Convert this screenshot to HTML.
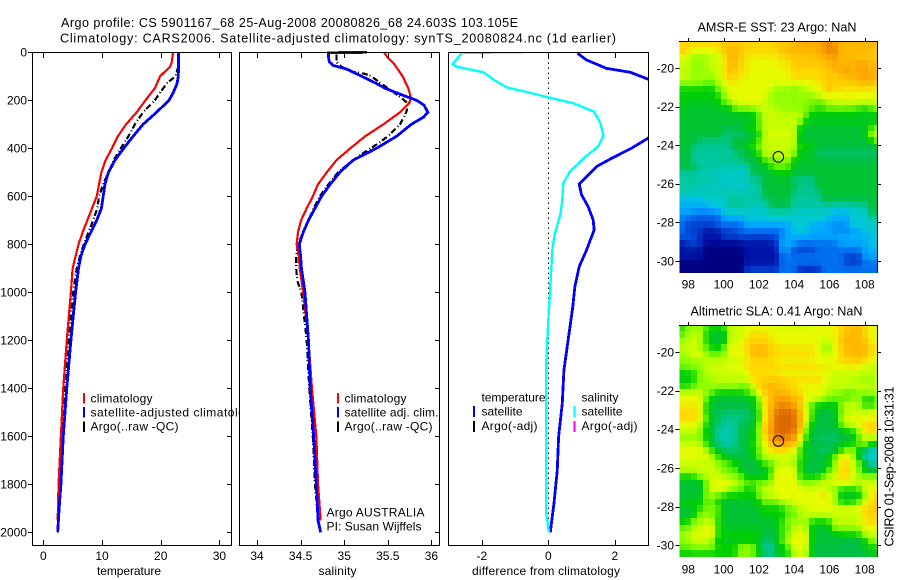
<!DOCTYPE html>
<html lang="en">
<head>
<meta charset="utf-8">
<title>Argo profile chart</title>
<style>
html,body{margin:0;padding:0;background:#fff;}
svg{display:block;}
text{font-family:"Liberation Sans",sans-serif;font-size:12px;fill:#000;}
text.big{font-size:12.6px;}
.ln{shape-rendering:crispEdges;}
</style>
</head>
<body>
<svg id="chart" width="900" height="580" viewBox="0 0 900 580" xmlns="http://www.w3.org/2000/svg">
<defs>
<clipPath id="clip3"><rect x="449" y="53" width="199" height="492"/></clipPath>
<clipPath id="clipMap1"><rect x="679.5" y="41" width="198" height="232.5"/></clipPath>
<clipPath id="clipMap2"><rect x="679.5" y="325" width="198" height="232.5"/></clipPath>
</defs>
<rect x="0" y="0" width="900" height="580" fill="#fff"/>
<text class="big" x="61" y="27" textLength="457" lengthAdjust="spacing">Argo profile: CS 5901167_68 25-Aug-2008 20080826_68 24.603S 103.105E</text>
<text class="big" x="60" y="42.5" textLength="556" lengthAdjust="spacing">Climatology: CARS2006. Satellite-adjusted climatology: synTS_20080824.nc (1d earlier)</text>

<g id="panel1">
<rect x="32.5" y="52.5" width="199" height="493" fill="#fff"/>
<g id="marks1"></g>
<rect class="ln" x="32.5" y="52.5" width="199" height="493" fill="none" stroke="#000"/>
<g id="ticks1"></g>
<text x="97" y="575" textLength="64" lengthAdjust="spacing">temperature</text>
<rect class="ln" x="83" y="393" width="2" height="10.5" fill="#f00"/>
<rect class="ln" x="83" y="407" width="2" height="10.5" fill="#00f"/>
<rect class="ln" x="83" y="421.5" width="2" height="10.5" fill="#000"/>
<text x="90.5" y="402.5" textLength="62" lengthAdjust="spacing">climatology</text>
<text x="90.5" y="416.5" textLength="168" lengthAdjust="spacing">satellite-adjusted climatology</text>
<text x="90.5" y="430.5" textLength="88" lengthAdjust="spacing">Argo(..raw -QC)</text>
</g>

<g id="panel2">
<rect x="239.5" y="52.5" width="200" height="493" fill="#fff"/>
<g id="marks2"></g>
<rect class="ln" x="239.5" y="52.5" width="200" height="493" fill="none" stroke="#000"/>
<g id="ticks2"></g>
<text x="318.5" y="575" textLength="38" lengthAdjust="spacing">salinity</text>
<rect class="ln" x="337" y="393" width="2" height="10.5" fill="#f00"/>
<rect class="ln" x="337" y="407" width="2" height="10.5" fill="#00f"/>
<rect class="ln" x="337" y="421.5" width="2" height="10.5" fill="#000"/>
<text x="344.5" y="402.5" textLength="62" lengthAdjust="spacing">climatology</text>
<text x="344.5" y="416.5" textLength="94" lengthAdjust="spacing">satellite adj. clim.</text>
<text x="344.5" y="430.5" textLength="88" lengthAdjust="spacing">Argo(..raw -QC)</text>
<text x="326.5" y="516.5" textLength="98" lengthAdjust="spacing">Argo AUSTRALIA</text>
<text x="326.5" y="530.5" textLength="95" lengthAdjust="spacing">PI: Susan Wijffels</text>
</g>

<g id="panel3">
<rect x="448.5" y="52.5" width="200" height="493" fill="#fff"/>
<g id="marks3" clip-path="url(#clip3)"></g>
<rect class="ln" x="448.5" y="52.5" width="200" height="493" fill="none" stroke="#000"/>
<g id="ticks3"></g>
<text x="472" y="575" textLength="148" lengthAdjust="spacing">difference from climatology</text>
<text x="481.5" y="401.5" textLength="64" lengthAdjust="spacing">temperature</text>
<text x="481.5" y="415.5" textLength="41" lengthAdjust="spacing">satellite</text>
<text x="481.5" y="430" textLength="56" lengthAdjust="spacing">Argo(-adj)</text>
<text x="581.5" y="401.5" textLength="37" lengthAdjust="spacing">salinity</text>
<text x="581.5" y="415.5" textLength="41" lengthAdjust="spacing">satellite</text>
<text x="581.5" y="430" textLength="56" lengthAdjust="spacing">Argo(-adj)</text>
<rect class="ln" x="473" y="406" width="2" height="11" fill="#00f"/>
<rect class="ln" x="473" y="421" width="2" height="11" fill="#000"/>
<rect class="ln" x="573.5" y="406" width="2" height="11" fill="#0ff"/>
<rect class="ln" x="573.5" y="421" width="2" height="11" fill="#f0f"/>
</g>

<g id="map1">
<g id="cells1" clip-path="url(#clipMap1)"></g>
<path class="ln" d="M679 41.5H877.5V273" fill="none" stroke="#000"/>
<g id="ticks4"></g>
<text class="big" x="697.5" y="31.5" textLength="159" lengthAdjust="spacing">AMSR-E SST: 23 Argo: NaN</text>
<circle id="marker1" r="5.3" fill="none" stroke="#000" stroke-width="1"/>
</g>

<g id="map2">
<g id="cells2" clip-path="url(#clipMap2)"></g>
<path class="ln" d="M679 325.5H877.5V557" fill="none" stroke="#000"/>
<g id="ticks5"></g>
<text class="big" x="690.5" y="315.5" textLength="172" lengthAdjust="spacing">Altimetric SLA: 0.41 Argo: NaN</text>
<circle id="marker2" r="5.3" fill="none" stroke="#000" stroke-width="1"/>
</g>
<text class="big" transform="translate(893.5,546.5) rotate(-90)" x="0" y="0" textLength="160" lengthAdjust="spacing">CSIRO 01-Sep-2008 10:31:31</text>
</svg>

<script>
// ---- tick labels ----
const depthTicks = [0,200,400,600,800,1000,1200,1400,1600,1800,2000];
const tempTicks = [0,10,20,30];
const salinityTicks = [34,34.5,35,35.5,36];
const diffTicks = [-2,0,2];
const lonTicks = [98,100,102,104,106,108];
const latTicks = [-20,-22,-24,-26,-28,-30];

// ---- temperature panel ----
const tempClimDepth = [0,40,60,100,150,200,250,300,350,400,450,500,550,600,650,700,750,800,850,900,1000,1200,1400,1600,1800,1950];
const tempClimValue = [22.1,21.9,21.6,19.9,19,17.4,15.9,14.1,12.7,11.7,10.6,9.9,9.5,9.1,8.3,7.5,6.7,6,5.5,5,4.7,4,3.4,3,2.6,2.45];
const tempSatDepth = [0,100,130,170,200,250,300,350,400,450,500,550,600,650,700,750,800,850,900,1000,1200,1400,1600,1800,1900,2000];
const tempSatValue = [23.06,23,22.8,22.1,21.4,19.3,17,15.3,13.7,12.2,11.1,10.5,10.2,9.9,9.1,8.1,7.1,6.4,6,5.5,4.7,4,3.4,3,2.7,2.45];
const tempArgoDepth = [60,100,130,200,250,300,350,400,450,500,550,600,650,700,750,800,850,900,1000,1200,1400,1600,1800,1900];
const tempArgoValue = [23,22.5,21,19,17,15.6,14.5,13.2,12,11.1,10.2,9.5,9.2,8.5,7.7,6.9,6.25,5.7,5.1,4.3,3.75,3.2,2.8,2.6];

// ---- salinity panel ----
const salClimDepth = [0,20,50,100,150,190,210,250,300,350,400,450,500,550,600,650,700,750,800,850,900,1000,1200,1400,1600,1800,1900,1950];
const salClimValue = [35.456,35.495,35.575,35.67,35.735,35.766,35.747,35.64,35.45,35.24,35.07,34.91,34.8,34.7,34.64,34.57,34.505,34.47,34.455,34.48,34.49,34.53,34.59,34.63,34.68,34.7,34.72,34.73];
const salSatDepth = [0,2,20,40,55,70,100,130,150,180,200,220,250,270,300,350,400,450,500,550,600,650,700,750,800,850,900,1000,1200,1400,1600,1800,1950,2000];
const salSatValue = [35.26,34.82,34.82,34.83,34.875,35.03,35.2,35.37,35.47,35.68,35.83,35.915,35.96,35.91,35.77,35.6,35.37,35.1,34.95,34.84,34.74,34.665,34.59,34.53,34.485,34.5,34.51,34.55,34.59,34.61,34.65,34.68,34.7,34.73];
const salArgoDepth = [10,40,60,80,90,100,150,180,210,240,260,300,350,380,420,450,500,550,600,650,700,800,850,900,950,1000,1100,1200,1400,1600,1800,1900];
const salArgoValue = [34.91,34.91,34.97,35.07,35.24,35.31,35.5,35.62,35.72,35.72,35.7,35.64,35.5,35.39,35.22,35.1,34.93,34.82,34.72,34.65,34.59,34.47,34.45,34.45,34.46,34.51,34.54,34.57,34.6,34.64,34.665,34.69];

// ---- difference panel ----
const diffTempDepth = [4,32,67,83,112,150,200,250,300,358,400,442,476,549,594,643,699,740,824,893,976,1067,1324,1463,1602,1741,1880,2001];
const diffTempValue = [0.88,1.15,1.75,2.46,3,3.8,4.1,3.9,3.4,3,2.5,1.9,1.45,0.93,1,1.2,1.35,1.38,1.15,0.93,0.8,0.73,0.47,0.42,0.31,0.27,0.17,0.06];
const diffSalDepth = [0,2,50,60,83,118,146,167,188,212,247,289,347,393,437,497,546,615,671,754,810,921,1004,1067,1200,1324,1914,1949,2001];
const diffSalValue = [-0.77,-2.6,-2.88,-2.76,-1.95,-1.6,-1.25,-0.6,0,0.75,1.37,1.55,1.66,1.5,1.1,0.65,0.45,0.42,0.37,0.2,0.13,0.08,0.05,0.02,-0.03,-0.07,-0.07,-0.03,0.02];

// ---- float position ----
const floatLon = 103.105;
const floatLat = -24.603;

// ---- colour levels for the two maps ----
const levelColors = ['#000080','#0014a8','#0040d0','#0070f0','#00a8ff','#00c8d8','#00c8a0','#00c040','#00d000','#60f000','#90ff00','#c8ff00','#e8fa00','#ffd800','#ffb800','#f89800','#e07000','#d06000'];

// ---- SST map cells (colour level, rows from north to south) ----
const sstGrid = [
[13,13,13,13,13,13,13,13.5,13.5,13.5,13.5,13,13,13,13,13,13.5,13.5,13.5,14,14,14.5,14.5,14,15,15.5,15,14,14,14,14,14,14,14],
[13.5,13,12,12,12,12,12.5,13.5,14,14,13.5,13,13,13,13,13,13,13.5,14,14,14,14,14,14.5,15,15.5,15.5,14,14,14,14,14,14,13.5],
[12,11,10,10,10,11,11,13,14,14,13.5,12.5,12.5,12.5,12.5,12.5,12.5,13,13.5,13.5,13.5,13.5,13.5,14,14,14.5,15,14,14,14,13.5,13.5,13.5,13.5],
[11,11,10,10,11,11,11,12.5,14,14,13,12.5,12,12,12,12,12,12.5,12.5,13.5,13.5,13.5,13.5,13.5,13.5,14,14.5,14,14,14,14.5,14.5,14,14],
[11,10.5,10,10,10,11,11,13,14,13.5,13,12.5,12,12,12,12,12,12,12.5,13,13,13,13,13,13.5,13.5,14,14.5,15,14,14.5,15,14,14],
[11,11,10,10.5,10.5,10,11,12.5,13.5,13,12.5,12,12,12,12,12,12,12,12,13,13,13,13,13,13,13.5,13.5,13.5,14,14,14.5,14.5,14.5,14.5],
[10,10,10,10,9,9,10.5,12,12.5,12.5,12,12,12,12,12,12,11.5,12,12,12,12,12,12,12.5,13,13.5,13,13.5,13.5,13.5,13.5,14,14,13.5],
[8,8,8,8,8,8,9,10.5,12,12,12,12,12,12,12,11,10,10,10.5,9,10,11,11.5,12,13,14,13,13,12.5,12.5,13,13,12.5,12.5],
[7.8,8,8,8,8,7.8,8,10,12,12,12,12,12,12,11.5,10.5,10,10,10,10,10.5,10,10,11,12,12,12,12,12.5,12.5,12,12,12,12],
[8,7.5,7.5,7.5,7.5,7.5,8,9,9.5,11,12,12,12,12,11,10,10,10,10,10,10,10,9.5,9,9,11,11,11,11,11,11,11,11,11],
[7.5,7.3,7.3,7.3,7.3,7.3,7.5,7.5,7.8,9,9.5,9.5,9.5,11,11,11,10.5,10,10.5,10,10,9.5,9,8.5,8.8,9,9,9.5,9,9,8.5,8,8.5,10],
[7.3,7.3,7.3,7.3,7.3,7.3,7.3,7.3,7.3,7.3,7.3,7.3,8,8.5,11,11,11,11,10.5,11,11,9,7.6,7.6,7.6,7.6,7.6,7.6,7.6,7.6,7.6,7.6,7.6,7.6],
[7.3,7.3,7.3,7.3,7.3,7.3,7.3,7.3,7.3,7.3,7.3,7.3,7.3,9,11,11,11,11,11,11,10.5,7.6,7.6,7.6,7.6,7.6,7.6,7.6,7.6,7.6,7.6,7.6,7.6,7.6],
[7.2,7.2,7.2,7.2,7.2,7.2,7.2,6.8,6.8,6.8,6.8,8,8,9,11,11,11,11,11,11,7.2,7.2,7.2,7.2,7.2,7.2,7.2,7.2,7.2,7.2,7.2,7.2,8,10],
[7.2,7.2,7.2,7.2,7.2,7.2,7.2,6.5,6.5,6.5,6.5,6.5,7.5,7.5,11,11.5,11.5,11.5,11.5,11.5,7.2,7.2,7.2,7.2,7.2,7.2,7.2,7.2,7.2,7.2,7.2,7.2,11,11],
[7.2,7.2,7.2,6.3,6.3,6.3,6.3,6.3,6.3,7.2,7.2,7.2,7.2,9,11,11,11,11,11,11,7.2,7.2,7.2,7.2,7.2,7.2,7.2,7.2,7.2,7.2,7.2,7.2,7.2,10],
[7.2,7.2,6.2,6.2,6.2,6.2,6.2,6.2,6.2,7.2,7.2,7.2,9,9,11,11,11,11,11,11,8,8,8,7,7,7,7,7,7,7,7,7,7,7],
[7,7,6,6,6,6,6,6,6,6,7,7,7,8.5,11,11,11,11,11,10,7.2,7.2,7.2,6.6,6.6,6.6,6.6,6.6,6.6,6.6,6.6,6.6,6.6,6.6],
[7,7,6,6,6,6,6,6.2,6.2,6.2,6.2,7,7,7,9,9,10,10,10,7.5,7.5,7.5,7.5,7,7,7,7,7,7,7,7,7,7,7],
[7,7,7,6,6,6,5.8,5.8,5.8,5.8,5.8,5.8,7,7,7,9,9,9,9,7.2,7.2,7.2,7.2,7.2,7.2,7.2,7.2,7.2,7.2,7.2,7.2,7.2,7.2,7.2],
[6,6,6,5.6,5.6,5.6,5.6,5.3,5.3,5.3,5.3,5.3,7,7,7,7,8,8,8,7.2,7.2,7.2,7.2,7.2,7.2,7.2,7.2,7.2,7.2,7.2,7.2,7.2,7.2,7.2],
[6,6,6,6,6,6,5.3,5.3,5.3,5.3,5.3,6,6,6,7.2,7.2,7.2,7.2,7.2,6.2,6.2,6.2,6.2,7.2,7.2,7.2,7.2,7.2,7.2,7.2,7.2,7.2,7.2,7.2],
[6,6,6,5.4,5.4,5.4,5.4,5.4,5.4,5.4,5,5,6,6,7.2,7.2,7.2,7.2,7.2,7.2,6.2,6.2,6.2,7.2,7.2,7.2,7.2,7.2,7.2,7.2,7.2,7.2,7.2,7.2],
[6,5.7,5.7,5.7,5.7,5.7,5.7,5.7,5.7,5.7,5.7,5.7,5.7,5.7,7.2,7.2,7.2,7.2,7.2,6.2,6.2,6.2,6.2,6.2,7.2,7.2,7.2,7.2,7.2,7.2,7.2,7.2,7.2,7.2],
[4.6,4.6,4.6,4.6,5.2,5.2,5.2,5.2,6,6,6,6,6,6,6.6,6.6,7,7,7,6,6,6,6,6,7,7,7,7,7,7,7,7,7,7],
[4.3,4.3,4.3,4.3,4.3,5.2,5.2,5.2,6.2,6.2,6.2,5.7,5.7,5.7,5.7,7,7,7,7,6,6,6,6,6,6,6.2,6.2,6.2,6.2,6.2,6.2,6.2,7,7],
[4,4,3.6,3.6,3.6,3.6,3.6,5.2,5.2,5.2,5.2,5.2,5.2,5.2,5.2,6,6,6,6,5.4,5.4,5.4,5.4,5.4,5.4,5.4,4.4,4.4,4.4,5.2,5.2,5.2,7,7],
[3.2,3.2,2.6,2.6,2.6,2.6,2.6,4,4,4,4,5,5,5,5,5,5,5,5.2,5.2,5.2,5.2,5.2,5.2,5.2,4.2,4.2,4.2,4.2,5,5,5,6,6],
[3,2,2,2,2,2,3,3,3,3,3,4,4,4,4,4,4,4,4,5,5,5,4,4,4,4,3.5,3.5,3.5,5.3,5.3,5.3,5.3,5.3],
[3,2,2,2,1,1,1,2,2,2,3,3,3,3,3,3,3,3,4,5,5,5,4,4,4,4,3.6,3.6,3.6,3.6,3.6,5,5,5],
[2.5,2.5,2.5,1,1,1,1,2,2,2,2,2,2,2,2,2,2,4,4,4,4,4,4,4,4,4,4,4,4,4.3,4.3,4.3,4.3,5],
[1,2,2,2,0.5,0.5,0.5,0.5,0.5,0.5,1,1,1,1,1,1,2,4,4,4,3,3,3,3,3,3,3,4,4,4,4,4,5,5],
[1,1,1,1,0,0,0,0,0,0,0,1,1,1,1,1,1,4,4,2,2,2,2,3,3,3,3,3,3,3,3,4,4,4],
[1,1,1,1,0,0,0,0,0,0,0,1,1,1,1,1,1,3,3,3,3,3,3,3,3,3,3,3,2,2,2,4,4,4],
[0,0,0,0,0,0,0,0,0,0,0,1,1,1,1,1,1,3,3,3,3,3,3,3,3,3,3,3,2,2,2,3,3,3],
[0,0,0,0,0,0,0,0,0,0,0,2,2,2,2,2,2,3,3,3,1.5,1.5,1.5,1.5,3,3,3,3,3,3,3,3,3,3]
];

// ---- SLA map cells (colour level, rows from north to south) ----
const slaGrid = [
[8,10,10,10,9,8,8,8.5,11,11,11,12,12,12,12,12,11.5,11.5,11.5,11.5,11.5,11.5,12,12,12,12,12,13,13.5,14,14,13,12,12],
[9,10,11,11,8,7.5,7,7,11,11,11,12,13,13,13,12,12,12,12,12,12,12,12,12,12,12,12,13,14,14,14,13,12,12],
[10,11,11,11,8,7.5,7,7.5,11,11,12,13,13,13,13,13,12,12,12,12,12,12,12,12,11,11,12,14,14,14,14,14,12,12],
[11,11,11,10,9,8,8,8.5,12,12,12,13,14,14,14,13,13,12.5,12.5,12.5,12.5,12.5,12.5,12,10,10,12,13,14,14,14,14,13,13],
[10,10.5,12,12,10,9,9,10,12,12,12,12.5,14,14,14,13,13,13,13,13,13,13,13,12,11,11,12,13,14,14,14,14,13,12],
[10,10,10,10,11,11,11,11,11,11,11.5,12.5,13,13,13,13,12.5,12,12,12,12,12,12,12,12,12,12,13,13,13,13.5,13,12,12],
[9,9.5,10,10,11,11,11,11.5,12,12,12,13,13,13,13,13,13,13,13,13,13,13,13,12.5,12.5,12.5,12,12,12.5,12.5,12.5,11,11,11],
[8,8,8,10,10.5,11,11,11,11,11,11,12,13,13,13,12.5,12.5,12,12,12,12,12,12,12,12,12,11,11,11,11,11,11,11,11],
[7.5,8,8,10,10,10.5,11,11,11,11,11,11,13,13,13,13.5,13.5,13.5,13,13,13,13,13,13,12.5,11,11,11,11,10.5,10.5,10,10,11],
[8,8,9,10,10,10,10,10,10,10,9.5,9,11,13,14,14,14,13.5,13,13,12,12,12,12,12,11,11,11,11,11,11,11,11,11],
[11,11,11,11,10,9,8,8,8,8,8,9,9,13,13,14,14,14,14,13,13,12,12,12,12,10.5,10,10,9,9,10,10,10,11],
[12,12,12,12,9,7.5,7.2,7.2,7.2,7.2,7.2,7.2,8,9,13,13.5,15,15,14.5,14,14,12,12,11,10,9.5,9,9,9,10,10,8,8,9],
[12.5,12.5,12.5,12,8,7.2,7,7,7,7,7,7,7.2,9,13,14,15,15.5,15.5,14.5,14,10.5,8,8,7.5,7.5,7.5,10,11,11,11,8,8,9.5],
[13,13,13,12,8,7,6.8,6.5,6.5,6.5,6.5,6.5,7.2,8,13,14,16,16,16,16,14,12,9,7,7,7,7,9,11,11,11,11,12,12],
[13,13,13,12,9,7,6.8,6.3,6.3,6.3,6.3,6.5,7,8,13,14.5,16,16.5,16.5,16,14,12.5,8,7,7,7,7,10,12,12,12,12,12,12],
[12,12,12,11,8,7,6.5,6,6,6,7,7,7.2,9,13.5,14.5,16,16.5,16.5,16,15,10,7.5,7,7,7,7,9,11,11,12,13,13,13],
[11,11,11,10,7.5,7,6,5.7,5.7,6,7,7,7.2,10,14,15,16,16.5,16,16,14,9,7,7,7,7,7,7,8,8,10,13,13.5,13],
[10,10,10,10,8,7.2,6,5.7,5.7,6,7,7,8,9,13,14.5,15.5,16,15.5,15,13,8,7,6.8,6.5,6.5,6.5,7,7,7,9,11,11,11],
[11,11,11,11,8,7.2,6.3,6,6,6.3,7,7,8,10,12,13.5,14.5,14.5,14,14,10,7.5,7,7,7,7,7,7.5,8,8,9,10,7.5,7],
[12,12,12,12,11,8,7.5,6.5,6.5,6.5,6.8,7,8,8.5,11.5,13,13,13,13,12,8,7.5,7,6.8,6.5,6.5,6.5,8,10,10,8,6,5.5,5],
[12,12,12,11.5,11.5,11,8,8,7,7,7,7,7.2,9.5,10.5,11,11,11,11,11,9,7.5,7,7,7,8,9,12,12,11,7,6,5,5],
[11,11,11,11,11,11,10,9,9,8,7.2,7,7,7.2,9,9,10.5,11,11,10.5,8,7.2,7,7,7,7.5,10,13,13,11,9,7.5,5.8,5.7],
[11,11,11,11,11,11,11,9,9,9,7.5,7,7,7,7,8,12,12,12,12,8,7.2,7,7,7,9,10,13,13.5,11.5,10,7.2,7,7],
[8,8,8,10,11,11,11,11,10,10,9,8,7.5,7.5,7.5,9,12,12,12,12,8,8,8,8,9,11,11,13,13,11,10,10,10,10],
[7.2,7.2,7.2,7.2,9,12,12,12,12,11,10,9,9,9,10,10,12,12,12,12,10,10,10,11,11,11,12,12,12,12,11,11,11,11],
[7.2,7.2,7.2,7.2,9,12,12,12,10,10,9,8,8,10,11,11,12,12,12,12,12,11,11,11,12,10,10,8,8,8,8,12,12,12],
[7.2,7.2,7.2,7.2,10,10,9,8,8,8,8,8,8,9,11,11,12,12,12,12,12,12,12,12,13,12,11,7.6,7.4,7.4,8,9,13,13],
[8,8,8,8,9,9,8,7.2,7.2,7.2,7.2,7.2,7.2,8,9,9,9,10.5,11,11,12,12,12,12,12,12,10,8,7.6,8,9,12,12.5,13.5],
[7.2,7.2,8,8,9.5,10,9,7.2,7.2,7.2,7.2,7.2,7.2,7.5,8,8,8,8,9,10,10.5,11,12,12,11.5,12,12,11.5,12,12,12,13,13.5,13.5],
[7.2,7.2,7.2,10,10,9,9,7.2,7.2,7.2,7.2,7.2,7.2,7.2,8,8,8,8,9,9,11,11,11,11,11,11,11,11,11,11,11,13,13,13],
[8,8,10,10,11,11,8,7.2,7.2,7.2,7.2,7.2,7.2,7.2,7.2,7.2,8,8,10,10,10,10.5,8,8,8,8,11,11,11,11,11,13,13,13],
[9,9,11,11,12,12,8,7.5,7.5,7.5,7.5,7.5,7.5,7.5,7.2,7.2,7.2,9,9,11,11,11,7.2,7.2,7.2,7.2,10,10,10,10,10,12,12,12],
[10,11,12,12,12,12,8,8,8,8,8,8,8,8,7,7,7,9,9,12,12,12,7.2,7.2,7.2,7.2,7.2,8,8,8,8,11,11,11],
[10,10,11,11,11,10,7.5,7.5,7.5,7.5,7.5,7.5,7.5,7.5,6.5,6.5,8,8,12,12,12,12,7.2,7.2,7.2,7.2,7.2,7,7,7,7,7,10,10],
[9,9,10,10,10,10,8,8,8,8,10,10,10,7.5,6,5.8,7.5,8,8,12,12,12,7,7,7,7,7,6.8,6.8,6.8,7,8,8,8],
[8,8,8,8,8,8,8,8,8,8,10,10,9,8,6.5,6,7,8,8,11,11,11,7,7,7,7,7,7,7,7,7,7,7,8]
];

// ---- axis functions ----
function depthY(d) { return 52.3 + 0.24 * d; }
function tempX(v) { return 43.3 + 5.87 * v; }
function salinityX(v) { return 257 + 87.2 * (v - 34); }
function diffX(v) { return 548.3 + 33.25 * v; }
function lonX(v) { return 688.3 + 17.64 * (v - 98); }
function map1LatY(v) { return 68 + 19.3 * (-v - 20); }
function map2LatY(v) { return 352 + 19.33 * (-v - 20); }

const SVGNS = 'http://www.w3.org/2000/svg';
const layer = function (id) { return document.getElementById(id); };

function drawProfile(target, depths, values, xScale, color, width, dash, name) {
  const line = document.createElementNS(SVGNS, 'polyline');
  
  
  const pts = [];
  for (let i = 0; i < values.length; i++) {
    pts.push(xScale(values[i]).toFixed(2) + ',' + depthY(depths[i]).toFixed(2));
  }
  line.setAttribute('points', pts.join(' '));
  line.setAttribute('fill', 'none');
  line.setAttribute('stroke', color);
  line.setAttribute('stroke-width', width);
  line.setAttribute('class', 'ln');
  if (dash) line.setAttribute('stroke-dasharray', dash);
  target.appendChild(line);
}

function drawTickLine(target, x1, y1, x2, y2) {
  const t = document.createElementNS(SVGNS, 'line');
  
  
  t.setAttribute('x1', x1);
  t.setAttribute('y1', y1);
  t.setAttribute('x2', x2);
  t.setAttribute('y2', y2);
  t.setAttribute('stroke', '#000');
  t.setAttribute('class', 'ln');
  target.appendChild(t);
}

function drawTickLabel(target, x, y, anchor, label) {
  const t = document.createElementNS(SVGNS, 'text');
  
  
  t.setAttribute('x', x);
  t.setAttribute('y', y);
  t.setAttribute('text-anchor', anchor);
  t.textContent = label;
  target.appendChild(t);
}

function drawBottomAxis(target, ticks, xScale) {
  ticks.forEach(function (v) {
    const x = Math.round(xScale(v)) + 0.5;
    drawTickLine(target, x, 53, x, 58);
    drawTickLine(target, x, 540, x, 545);
    drawTickLabel(target, xScale(v), 560, 'middle', String(v));
  });
}

function smoothedLevel(grid, r, c) {
  let sum = grid[r][c] * 3;
  let weight = 3;
  [[-1, 0], [1, 0], [0, -1], [0, 1]].forEach(function (o) {
    const row = grid[r + o[0]];
    if (row && row[c + o[1]] !== undefined) {
      sum += row[c + o[1]];
      weight += 1;
    }
  });
  return sum / weight;
}

function drawHeatCells(target, grid, yOfLat, latTop, name) {
  const lonStep = 1 / 3;
  const latStep = 1 / 3;
  const lon0 = 97.5;
  grid.forEach(function (row, r) {
    row.forEach(function (level, c) {
      const lo = Math.max(0, Math.min(levelColors.length - 1.001, smoothedLevel(grid, r, c)));
      const i = Math.floor(lo);
      const f = lo - i;
      const a = levelColors[i];
      const b = levelColors[i + 1];
      const mix = [1, 3, 5].map(function (p) {
        const ca = parseInt(a.substr(p, 2), 16);
        const cb = parseInt(b.substr(p, 2), 16);
        return Math.round(ca + (cb - ca) * f);
      });
      const cell = document.createElementNS(SVGNS, 'rect');
      
      
      const x0 = lonX(lon0 + c * lonStep);
      const x1 = lonX(lon0 + (c + 1) * lonStep);
      const y0 = yOfLat(latTop - r * latStep);
      const y1 = yOfLat(latTop - (r + 1) * latStep);
      cell.setAttribute('x', Math.round(x0));
      cell.setAttribute('y', Math.round(y0));
      cell.setAttribute('width', Math.round(x1) - Math.round(x0));
      cell.setAttribute('height', Math.round(y1) - Math.round(y0));
      cell.setAttribute('fill', 'rgb(' + mix.join(',') + ')');
      cell.setAttribute('shape-rendering', 'crispEdges');
      target.appendChild(cell);
    });
  });
}

function drawMapAxes(target, yOfLat, top, bottomLabelY) {
  lonTicks.forEach(function (v) {
    const x = Math.round(lonX(v)) + 0.5;
    drawTickLine(target, x, top - 3, x, top);
    drawTickLabel(target, lonX(v), bottomLabelY, 'middle', String(v));
  });
  latTicks.forEach(function (v) {
    const y = Math.round(yOfLat(v)) + 0.5;
    drawTickLine(target, 675.5, y, 679.5, y);
    drawTickLine(target, 877.5, y, 881, y);
    drawTickLabel(target, 674, yOfLat(v) + 4.3, 'end', String(v));
  });
}

// ---- profile panels ----
drawProfile(layer('marks1'), tempArgoDepth, tempArgoValue, tempX, '#000', 2.2, '6 2 1 3', 'temperature-argo-line');
drawProfile(layer('marks1'), tempClimDepth, tempClimValue, tempX, '#f00', 2.2, null, 'temperature-climatology-line');
drawProfile(layer('marks1'), tempSatDepth, tempSatValue, tempX, '#00f', 2.8, null, 'temperature-satellite-line');

drawProfile(layer('marks2'), salArgoDepth, salArgoValue, salinityX, '#000', 2.2, '6 2 1 3', 'salinity-argo-line');
drawProfile(layer('marks2'), salClimDepth, salClimValue, salinityX, '#f00', 2.2, null, 'salinity-climatology-line');
drawProfile(layer('marks2'), salSatDepth, salSatValue, salinityX, '#00f', 2.8, null, 'salinity-satellite-line');

const zeroLine = document.createElementNS(SVGNS, 'line');


zeroLine.setAttribute('x1', Math.round(diffX(0)) + 0.5);
zeroLine.setAttribute('x2', Math.round(diffX(0)) + 0.5);
zeroLine.setAttribute('y1', depthY(0));
zeroLine.setAttribute('y2', depthY(2000));
zeroLine.setAttribute('stroke', '#000');
zeroLine.setAttribute('stroke-dasharray', '1.5 3.5');
zeroLine.setAttribute('class', 'ln');
layer('marks3').appendChild(zeroLine);
drawProfile(layer('marks3'), diffTempDepth, diffTempValue, diffX, '#00f', 2.8, null, 'temperature-difference-line');
drawProfile(layer('marks3'), diffSalDepth, diffSalValue, diffX, '#0ff', 2.4, null, 'salinity-difference-line');

// ---- profile axes ----
depthTicks.forEach(function (v) {
  const y = Math.round(depthY(v)) + 0.5;
  drawTickLine(layer('ticks1'), 28, y, 32, y);
  drawTickLine(layer('ticks1'), 227, y, 231, y);
  drawTickLine(layer('ticks2'), 435, y, 439, y);
  drawTickLabel(layer('ticks1'), 27, depthY(v) + 4, 'end', String(v));
});
drawBottomAxis(layer('ticks1'), tempTicks, tempX);
drawBottomAxis(layer('ticks2'), salinityTicks, salinityX);
drawBottomAxis(layer('ticks3'), diffTicks, diffX);

// ---- maps ----
drawHeatCells(layer('cells1'), sstGrid, map1LatY, -18.6, 'sst-cell');
drawHeatCells(layer('cells2'), slaGrid, map2LatY, -18.6, 'sla-cell');
drawMapAxes(layer('ticks4'), map1LatY, 41, 288.5);
drawMapAxes(layer('ticks5'), map2LatY, 325, 573.5);
layer('marker1').setAttribute('cx', lonX(floatLon));
layer('marker1').setAttribute('cy', map1LatY(floatLat));
layer('marker2').setAttribute('cx', lonX(floatLon));
layer('marker2').setAttribute('cy', map2LatY(floatLat));
</script>
</body>
</html>
